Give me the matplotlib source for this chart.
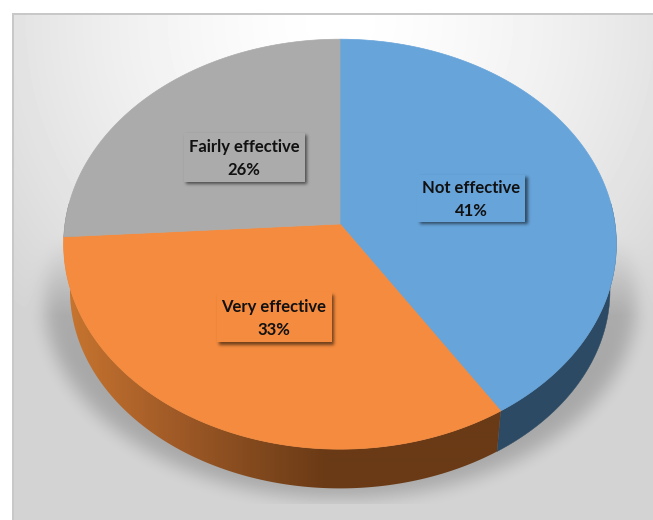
import numpy as np
import matplotlib
matplotlib.use("Agg")
import matplotlib.pyplot as plt
from matplotlib.colors import LinearSegmentedColormap
from matplotlib.patches import Polygon, Rectangle

categories = ["Not effective", "Very effective", "Fairly effective"]
values = [41, 33, 26]
top_colors = ["#67a4da", "#f58b3e", "#ababab"]
side_colors = ["#2c4a63", None, "#6f6f6f"]
label_centers = [(471, 198), (274, 317), (244, 157)]
label_sizes = [(108, 47), (115, 50), (121, 49)]

W, H = 653, 520
CX = 340
K = 0.0984
TOP = dict(a=275.0, b=203.0, y0=224.0)
BOT = dict(a=268.7, b=196.0, y0=271.0)
VIS = (np.radians(84), np.radians(276))  # part of the wall that faces the viewer


def project(theta, disc):
    u, v = np.sin(theta), -np.cos(theta)
    d = 1 - K * v
    return CX + disc["a"] * u / d, disc["y0"] + disc["b"] * v / d


def blur(a, s):
    x = np.arange(-int(3 * s), int(3 * s) + 1)
    g = np.exp(-x**2 / (2 * s**2))
    g /= g.sum()
    a = np.apply_along_axis(lambda m: np.convolve(m, g, mode="same"), 0, a)
    return np.apply_along_axis(lambda m: np.convolve(m, g, mode="same"), 1, a)


fig = plt.figure(figsize=(W / 100, H / 100), dpi=100)
ax = fig.add_axes([0, 0, 1, 1])
ax.set_xlim(0, W)
ax.set_ylim(H, 0)
ax.axis("off")
EXT = (0, W, H, 0)

# background gradient
yy, xx = np.mgrid[0:H, 0:W]
r = np.hypot(xx - 340.0, yy - 20.0)
bg = 255 - 43 * np.clip(r / 430, 0, 1) ** 1.5

# soft floor shadow
mask = (((xx - 340.0) / 296) ** 2 + ((yy - 300.0) / 198) ** 2 < 1).astype(float)
mask = blur(mask, 9)
fade = np.clip((yy - 235) / 80, 0, 1)
shade = 0.21 * mask * fade
shade[yy > 503] = 0
img = bg * (1 - shade)
img[:13, :] = 255
img[:, :12] = 255
img[13:15, 12:] = 200
img[13:, 12:14] = 200
ax.imshow(img, cmap="gray", vmin=0, vmax=255, extent=EXT, zorder=0, aspect="auto", interpolation="nearest")

# side walls
orange_side = LinearSegmentedColormap.from_list(
    "o", [(0, "#c8752f"), (0.4, "#a05a27"), (0.64, "#874c1f"), (0.95, "#6a3a16"), (1, "#6a3a16")]
)
gradient = orange_side(np.clip((np.arange(W)[None, :] - 65) / 275, 0, 1))
edges = np.cumsum([0] + values) / sum(values) * 2 * np.pi
for i, (s, e) in enumerate(zip(edges[:-1], edges[1:])):
    s2, e2 = max(s, VIS[0]), min(e, VIS[1])
    if e2 <= s2:
        continue
    th = np.linspace(s2, e2, 200)
    xt, yt = project(th, TOP)
    xb, yb = project(th, BOT)
    pts = np.column_stack([np.r_[xt, xb[::-1]], np.r_[yt, yb[::-1]]])
    if side_colors[i] is None:
        poly = Polygon(pts, closed=True, facecolor="none", edgecolor="none", transform=ax.transData)
        ax.add_patch(poly)
        im = ax.imshow(gradient, extent=(0, W, H, 0), zorder=2, aspect="auto", interpolation="bilinear")
        im.set_clip_path(poly)
    else:
        ax.add_patch(Polygon(pts, closed=True, facecolor=side_colors[i], edgecolor=side_colors[i], linewidth=0.3, zorder=2))

# top faces
for i, (s, e) in enumerate(zip(edges[:-1], edges[1:])):
    th = np.linspace(s, e, 300)
    xt, yt = project(th, TOP)
    pts = np.column_stack([np.r_[CX, xt], np.r_[TOP["y0"], yt]])
    ax.add_patch(Polygon(pts, closed=True, facecolor=top_colors[i], edgecolor=top_colors[i], linewidth=0.5, zorder=3))

# data labels with soft shadowed boxes
for name, val, (cx, cy), (bw, bh), col in zip(categories, values, label_centers, label_sizes, top_colors):
    x0, y0 = cx - bw / 2, cy - bh / 2
    m = np.zeros((H, W))
    m[int(y0 + 3):int(y0 + bh + 3), int(x0 + 3):int(x0 + bw + 3)] = 1
    sub = blur(m, 1.6)
    rgba = np.zeros((H, W, 4))
    rgba[..., 3] = 0.55 * sub
    ax.imshow(rgba, extent=EXT, zorder=4, aspect="auto", interpolation="nearest")
    ax.add_patch(Rectangle((x0, y0), bw, bh, facecolor=col, edgecolor="none", zorder=5))
    ax.text(cx, cy + 1.5, f"{name}\n{val}%", ha="center", va="center", fontsize=12, fontweight="bold",
            family="Lato", color="#111111", linespacing=1.5, zorder=6)

ax.set_xlim(0, W)
ax.set_ylim(H, 0)
fig.savefig("out.png", dpi=100)
